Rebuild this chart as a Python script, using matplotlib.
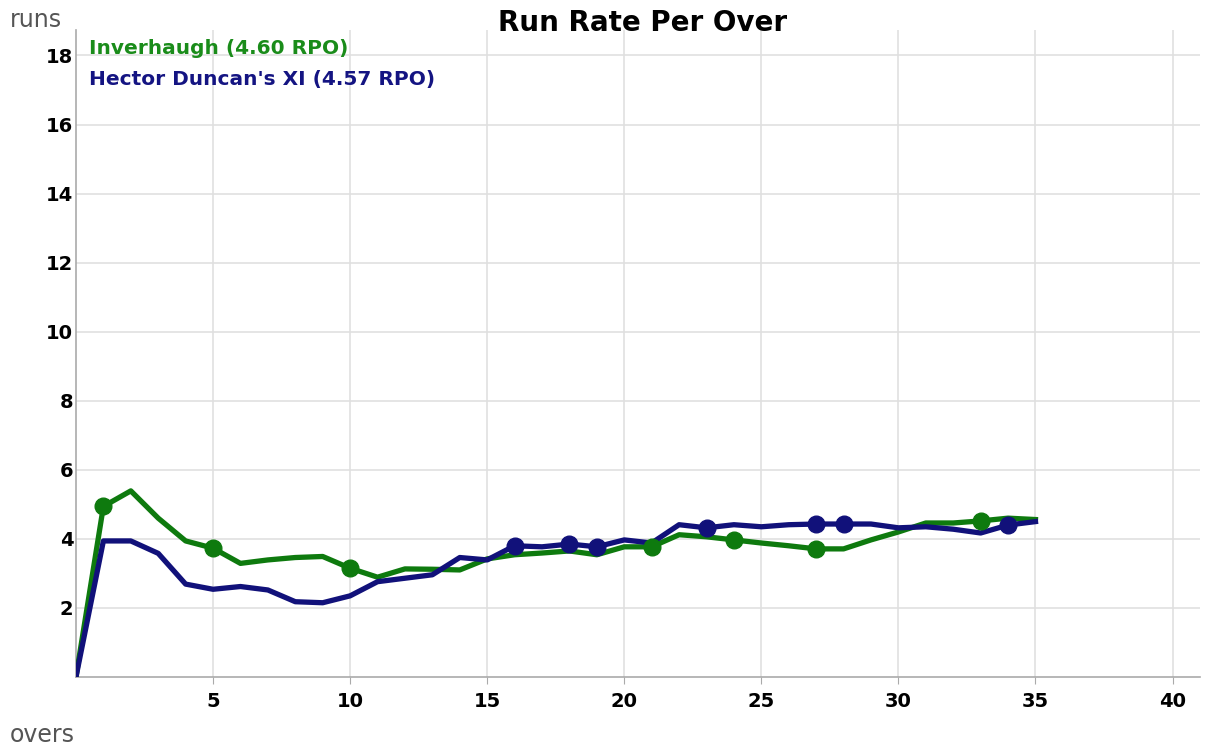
import matplotlib
matplotlib.use('Agg')
import matplotlib.pyplot as plt

plt.rcParams['font.family'] = ['DejaVu Sans']

overs = list(range(0, 36))

inverhaugh = [0, 4.94, 5.39, 4.60, 3.94, 3.73, 3.29, 3.39, 3.46, 3.49,
              3.15, 2.89, 3.13, 3.12, 3.10, 3.42, 3.54, 3.59, 3.65, 3.54,
              3.77, 3.77, 4.12, 4.06, 3.97, 3.88, 3.80, 3.71, 3.71, 3.97,
              4.20, 4.46, 4.46, 4.52, 4.60, 4.56]
hector = [0, 3.94, 3.94, 3.58, 2.69, 2.54, 2.62, 2.52, 2.18, 2.15,
          2.35, 2.76, 2.86, 2.96, 3.46, 3.39, 3.80, 3.77, 3.85, 3.77,
          3.97, 3.88, 4.41, 4.32, 4.41, 4.35, 4.41, 4.43, 4.43, 4.43,
          4.32, 4.35, 4.28, 4.17, 4.40, 4.50]

inverhaugh_wkts = [1, 5, 10, 21, 24, 27, 33]
hector_wkts = [16, 18, 19, 23, 27, 28, 34]

labels = ["Inverhaugh (4.60 RPO)", "Hector Duncan's XI (4.57 RPO)"]
line_colors = ['#0e7a0e', '#11117a']
text_colors = ['#1a8c1a', '#141482']

fig = plt.figure(figsize=(12.06, 7.45), dpi=100)
ax = fig.add_axes([0.063, 0.0913, 0.932, 0.869])

for vals, wk, c in [(inverhaugh, inverhaugh_wkts, line_colors[0]),
                    (hector, hector_wkts, line_colors[1])]:
    ax.plot(overs, vals, color=c, lw=3.8, solid_joinstyle='round', zorder=3)
    ax.plot(wk, [vals[w] for w in wk], 'o', color=c, ms=12, zorder=4)

ax.set_xlim(0, 41)
ax.set_ylim(0, 18.75)
ax.set_xticks(range(5, 41, 5))
ax.set_yticks(range(2, 19, 2))
ax.grid(True, color='#e0e0e0', lw=1.2)
ax.set_axisbelow(True)
for s in ['top', 'right']:
    ax.spines[s].set_visible(False)
for s in ['left', 'bottom']:
    ax.spines[s].set_color('#aaaaaa')
    ax.spines[s].set_linewidth(1.2)
ax.tick_params(axis='x', length=5, color='#aaaaaa', pad=6)
ax.tick_params(axis='y', length=0, pad=2)
for t in ax.get_xticklabels() + ax.get_yticklabels():
    t.set_fontweight('bold')
    t.set_fontsize(14)

fig.text(0.533, 0.969, 'Run Rate Per Over', ha='center', va='center',
         fontsize=20, fontweight='bold')
fig.text(0.008, 0.973, 'runs', ha='left', va='center', fontsize=17, color='#555555')
fig.text(0.008, 0.014, 'overs', ha='left', va='center', fontsize=17, color='#555555')

ax.text(0.012, 0.985, labels[0], transform=ax.transAxes, ha='left', va='top',
        fontsize=14.5, fontweight='bold', color=text_colors[0])
ax.text(0.012, 0.938, labels[1], transform=ax.transAxes, ha='left', va='top',
        fontsize=14.5, fontweight='bold', color=text_colors[1])

fig.savefig('out.png', dpi=100)
